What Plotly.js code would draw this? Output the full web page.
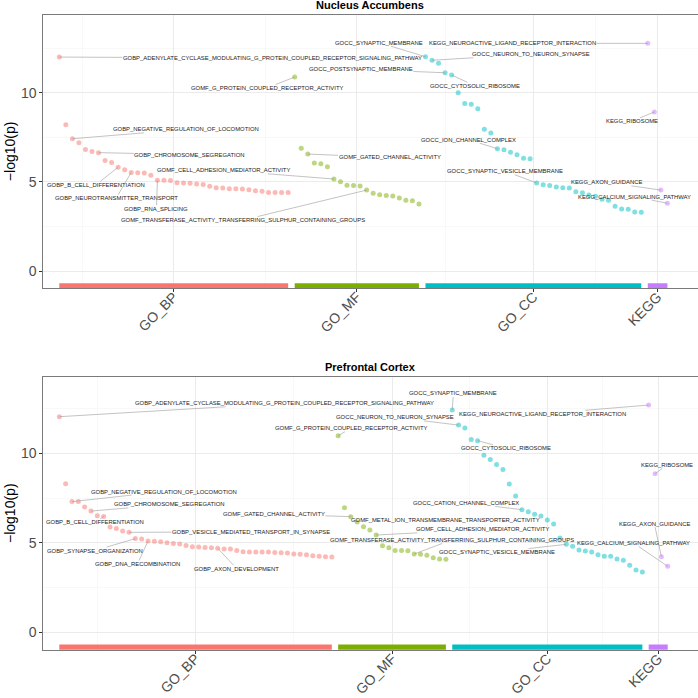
<!DOCTYPE html>
<html><head><meta charset="utf-8">
<script src="https://cdn.plot.ly/plotly-3.0.1.min.js"></script>
<style>html,body{margin:0;padding:0;background:#fff}#chart{width:698px;height:698px}</style>
</head><body><div id="chart"></div>
<script>
// ---------------- DATA ----------------
const categories = ['GO_BP', 'GO_MF', 'GO_CC', 'KEGG'];
const panelTitles = ['Nucleus Accumbens', 'Prefrontal Cortex'];

// Nucleus Accumbens  (-log10 p, sorted within category)
const naBP = [12.0, 8.2, 7.42, 7.2, 6.82, 6.71, 6.64, 6.2, 6.08, 5.82, 5.68, 5.53, 5.51, 5.5, 5.37, 5.09, 5.09, 5.07,
  4.95, 4.93, 4.92, 4.88, 4.85, 4.75, 4.67, 4.65, 4.62, 4.62, 4.6, 4.56, 4.5, 4.48, 4.41, 4.4, 4.4, 4.4];
const naMF = [10.88, 6.88, 6.56, 6.06, 6.02, 5.85, 5.16, 5.01, 4.81, 4.79, 4.77, 4.54, 4.36, 4.28, 4.24, 4.21, 4.09, 3.97, 3.94, 3.76];
const naCC = [12.02, 11.82, 11.65, 11.12, 10.99, 10.0, 9.40, 9.35, 9.10, 7.95, 7.74, 6.86, 6.80, 6.66, 6.52, 6.32, 6.30,
  4.94, 4.84, 4.79, 4.71, 4.67, 4.66, 4.45, 4.39, 4.26, 4.19, 4.02, 3.97, 3.63, 3.48, 3.46, 3.31, 3.29];
const naKEGG = [12.77, 8.92, 4.54, 3.80];

// Prefrontal Cortex
const pfcBP = [12.05, 8.30, 7.30, 7.30, 7.0, 6.77, 6.51, 6.47, 5.88, 5.8, 5.65, 5.58, 5.23, 5.21, 5.10, 5.08, 5.06, 5.0,
  4.95, 4.93, 4.85, 4.78, 4.76, 4.74, 4.72, 4.69, 4.65, 4.65, 4.57, 4.50, 4.48, 4.48, 4.48, 4.48, 4.46, 4.44, 4.42, 4.37,
  4.35, 4.33, 4.27, 4.24, 4.22, 4.2];
const pfcMF = [10.98, 6.96, 6.46, 6.16, 5.90, 5.71, 5.43, 4.83, 4.72, 4.57, 4.57, 4.55, 4.37, 4.35, 4.30, 4.16, 4.09, 4.07];
const pfcCC = [12.42, 11.58, 11.42, 10.78, 10.71, 9.9, 9.66, 9.38, 9.1, 8.28, 7.61, 6.85, 6.73, 6.6, 6.49, 6.27, 6.05,
  5.26, 4.91, 4.8, 4.59, 4.54, 4.48, 4.33, 4.24, 4.24, 4.09, 4.02, 3.74, 3.47, 3.36];
const pfcKEGG = [12.7, 8.86, 4.22, 3.68];

// labelled terms: [category index, rank within category, term]
const naLabels = [
  [0, 0, 'GOBP_ADENYLATE_CYCLASE_MODULATING_G_PROTEIN_COUPLED_RECEPTOR_SIGNALING_PATHWAY'],
  [0, 2, 'GOBP_NEGATIVE_REGULATION_OF_LOCOMOTION'],
  [0, 6, 'GOBP_CHROMOSOME_SEGREGATION'],
  [0, 9, 'GOBP_B_CELL_DIFFERENTIATION'],
  [0, 11, 'GOBP_NEUROTRANSMITTER_TRANSPORT'],
  [0, 15, 'GOBP_RNA_SPLICING'],
  [1, 0, 'GOMF_G_PROTEIN_COUPLED_RECEPTOR_ACTIVITY'],
  [1, 2, 'GOMF_GATED_CHANNEL_ACTIVITY'],
  [1, 6, 'GOMF_CELL_ADHESION_MEDIATOR_ACTIVITY'],
  [1, 11, 'GOMF_TRANSFERASE_ACTIVITY_TRANSFERRING_SULPHUR_CONTAINING_GROUPS'],
  [2, 0, 'GOCC_SYNAPTIC_MEMBRANE'],
  [2, 1, 'GOCC_NEURON_TO_NEURON_SYNAPSE'],
  [2, 3, 'GOCC_POSTSYNAPTIC_MEMBRANE'],
  [2, 4, 'GOCC_CYTOSOLIC_RIBOSOME'],
  [2, 11, 'GOCC_ION_CHANNEL_COMPLEX'],
  [2, 17, 'GOCC_SYNAPTIC_VESICLE_MEMBRANE'],
  [3, 0, 'KEGG_NEUROACTIVE_LIGAND_RECEPTOR_INTERACTION'],
  [3, 1, 'KEGG_RIBOSOME'],
  [3, 2, 'KEGG_AXON_GUIDANCE'],
  [3, 3, 'KEGG_CALCIUM_SIGNALING_PATHWAY']
];
const pfcLabels = [
  [0, 0, 'GOBP_ADENYLATE_CYCLASE_MODULATING_G_PROTEIN_COUPLED_RECEPTOR_SIGNALING_PATHWAY'],
  [0, 2, 'GOBP_NEGATIVE_REGULATION_OF_LOCOMOTION'],
  [0, 5, 'GOBP_CHROMOSOME_SEGREGATION'],
  [0, 7, 'GOBP_B_CELL_DIFFERENTIATION'],
  [0, 11, 'GOBP_VESICLE_MEDIATED_TRANSPORT_IN_SYNAPSE'],
  [0, 12, 'GOBP_SYNAPSE_ORGANIZATION'],
  [0, 14, 'GOBP_DNA_RECOMBINATION'],
  [0, 25, 'GOBP_AXON_DEVELOPMENT'],
  [1, 0, 'GOMF_G_PROTEIN_COUPLED_RECEPTOR_ACTIVITY'],
  [1, 2, 'GOMF_GATED_CHANNEL_ACTIVITY'],
  [1, 3, 'GOMF_METAL_ION_TRANSMEMBRANE_TRANSPORTER_ACTIVITY'],
  [1, 6, 'GOMF_CELL_ADHESION_MEDIATOR_ACTIVITY'],
  [1, 12, 'GOMF_TRANSFERASE_ACTIVITY_TRANSFERRING_SULPHUR_CONTAINING_GROUPS'],
  [2, 0, 'GOCC_SYNAPTIC_MEMBRANE'],
  [2, 1, 'GOCC_NEURON_TO_NEURON_SYNAPSE'],
  [2, 4, 'GOCC_CYTOSOLIC_RIBOSOME'],
  [2, 11, 'GOCC_CATION_CHANNEL_COMPLEX'],
  [2, 18, 'GOCC_SYNAPTIC_VESICLE_MEMBRANE'],
  [3, 0, 'KEGG_NEUROACTIVE_LIGAND_RECEPTOR_INTERACTION'],
  [3, 1, 'KEGG_RIBOSOME'],
  [3, 2, 'KEGG_AXON_GUIDANCE'],
  [3, 3, 'KEGG_CALCIUM_SIGNALING_PATHWAY']
];

// ---------------- LAYOUT / STYLE ----------------
// label text offsets (screen px, relative to the labelled point)
const naLabelOffsets = [[213,1],[114,-9.4],[91.4,2],[-22.4,17.7],[-15,25.7],[-0.9,28.4],
  [-28,11],[81.8,3.3],[-110.5,-8.7],[-123.5,30],
  [-46,-14],[99.3,-6],[-84.3,-3.4],[23.5,10.7],[-28.8,-9],[-31.3,-11.7],
  [-135.2,0],[-22.8,9.3],[-54.2,-7.7],[-33.4,-6.6]];
const pfcLabelOffsets = [[225.2,-13.4],[91.8,-10],[78.2,-6.7],[-8.4,6],[122.1,-0.6],[-40.7,12],[-10.5,23],[19,20.4],
  [12.7,-7.7],[-77,-2.4],[88.3,-2],[106.8,-5.7],[37.3,-14],
  [1.2,-16.7],[-63.3,-7.7],[28.4,7.6],[-56,-6.7],[-69.1,7.7],
  [-106,8.7],[12.3,-9],[-7,-33],[-34.2,-23.3]];

const solidColors = ['#F8766D', '#7CAE00', '#00BFC4', '#C77CFF'];
const pointColors = ['rgba(248,118,109,0.5)', 'rgba(124,174,0,0.5)', 'rgba(0,191,196,0.5)', 'rgba(199,124,255,0.5)'];
const FONT = 'Liberation Sans, Arial, Helvetica, sans-serif';
const W = 698, H = 698;
const px2x = p => p / W, px2y = p => 1 - p / H;

const panels = [
  {series: [naBP, naMF, naCC, naKEGG], labels: naLabels, offsets: naLabelOffsets,
   xr: [-1.447, 98.6], yr: [-0.97, 14.36], top: 15, bottom: 288.3, xa: 'x', ya: 'y'},
  {series: [pfcBP, pfcMF, pfcCC, pfcKEGG], labels: pfcLabels, offsets: pfcLabelOffsets,
   xr: [-1.525, 101.7], yr: [-1.0, 14.27], top: 377, bottom: 650, xa: 'x2', ya: 'y2'}
];
const plotLeft = 43.3, plotRight = 697.5;
const barY = -0.84;

const traces = [];
const annotations = [];
const layout = {
  width: W, height: H, margin: {l: 0, r: 0, t: 0, b: 0},
  paper_bgcolor: '#fff', plot_bgcolor: '#fff', showlegend: false,
  font: {family: FONT}, annotations: annotations
};

panels.forEach((p, pi) => {
  let start = 1;
  const xsByCat = p.series.map(vals => { const xs = vals.map((v, i) => start + i); start += vals.length; return xs; });
  const centers = xsByCat.map(xs => (xs[0] + xs[xs.length - 1]) / 2);
  const minors = [centers[0] - (centers[1] - centers[0]) / 2];
  for (let i = 0; i < centers.length - 1; i++) minors.push((centers[i] + centers[i + 1]) / 2);

  // category bars
  xsByCat.forEach((xs, c) => {
    traces.push({x: [xs[0], xs[xs.length - 1]], y: [barY, barY], mode: 'lines', type: 'scatter',
      line: {color: solidColors[c], width: 5.4}, xaxis: p.xa, yaxis: p.ya, hoverinfo: 'skip'});
  });
  // points
  xsByCat.forEach((xs, c) => {
    traces.push({x: xs, y: p.series[c], mode: 'markers', type: 'scatter',
      marker: {color: pointColors[c], size: 5, line: {width: 0}}, xaxis: p.xa, yaxis: p.ya});
  });
  // labels
  p.labels.forEach((lab, li) => {
    const [c, r, txt] = lab;
    const off = p.offsets[li];
    annotations.push({x: xsByCat[c][r], y: p.series[c][r], xref: p.xa, yref: p.ya, text: txt,
      showarrow: true, arrowhead: 0, arrowwidth: 0.6, arrowcolor: '#9a9a9a', standoff: 0,
      ax: off[0], ay: off[1], font: {size: 5.9, color: '#1a1a1a', family: FONT}, borderpad: 0});
  });
  // panel title
  annotations.push({xref: 'paper', yref: 'paper', x: px2x((plotLeft + plotRight) / 2), y: px2y(p.top - 10),
    text: '<b>' + panelTitles[pi] + '</b>', showarrow: false, xanchor: 'center', yanchor: 'middle',
    font: {size: 11, color: '#000', family: FONT}});
  // y title
  annotations.push({xref: 'paper', yref: 'paper', x: px2x(9.5), y: px2y((p.top + p.bottom) / 2),
    text: '\u2212log10(p)', showarrow: false, textangle: -90, xanchor: 'center', yanchor: 'middle',
    font: {size: 14, color: '#000', family: FONT}});

  const xKey = pi === 0 ? 'xaxis' : 'xaxis2';
  const yKey = pi === 0 ? 'yaxis' : 'yaxis2';
  layout[xKey] = {
    domain: [px2x(plotLeft), px2x(plotRight)], anchor: p.ya, range: p.xr,
    tickmode: 'array', tickvals: centers, ticktext: categories, tickangle: -45,
    tickfont: {size: 14, color: '#4D4D4D', family: FONT}, ticklabelstandoff: -9,
    ticks: 'outside', ticklen: 3, tickcolor: '#333', tickwidth: 1,
    showgrid: true, gridcolor: '#EBEBEB', gridwidth: 1,
    minor: {tickmode: 'array', tickvals: minors, showgrid: true, gridcolor: '#F3F3F3', gridwidth: 0.6, ticks: ''},
    zeroline: false, showline: true, mirror: true, linecolor: '#7a7a7a', linewidth: 1, fixedrange: true
  };
  layout[yKey] = {
    domain: [px2y(p.bottom), px2y(p.top)], anchor: p.xa, range: p.yr,
    tickmode: 'array', tickvals: [0, 5, 10], ticktext: ['0', '5', '10'],
    tickfont: {size: 14, color: '#4D4D4D', family: FONT},
    ticks: 'outside', ticklen: 3, tickcolor: '#333', tickwidth: 1,
    showgrid: true, gridcolor: '#EBEBEB', gridwidth: 1,
    minor: {tickmode: 'array', tickvals: [2.5, 7.5, 12.5], showgrid: true, gridcolor: '#F3F3F3', gridwidth: 0.6, ticks: ''},
    zeroline: false, showline: true, mirror: true, linecolor: '#7a7a7a', linewidth: 1, fixedrange: true
  };
});

Plotly.newPlot('chart', traces, layout, {displayModeBar: false, staticPlot: true});
</script>
</body></html>
